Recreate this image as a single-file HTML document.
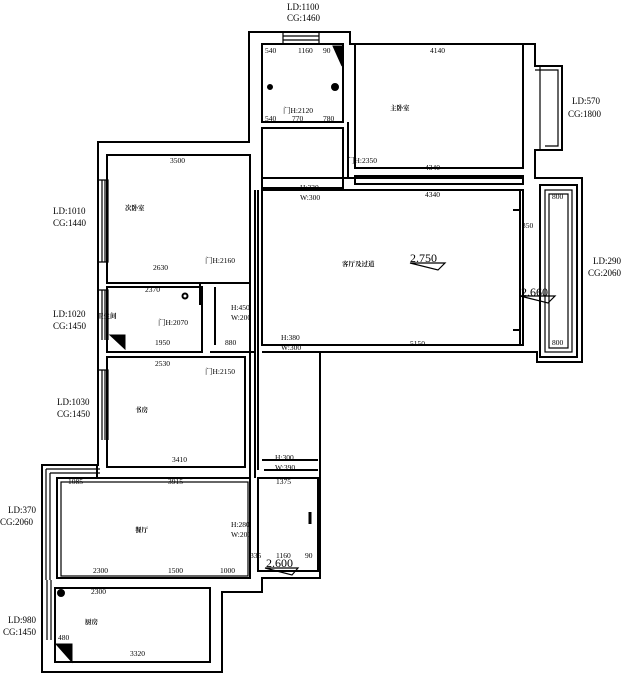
<!DOCTYPE html>
<html><head><meta charset="utf-8"><style>
html,body{margin:0;padding:0;background:#fff;width:630px;height:674px;overflow:hidden}
svg text{font-family:"Liberation Serif","Noto Serif CJK SC",serif;fill:#000}
</style></head><body>
<svg width="630" height="674" viewBox="0 0 630 674" xmlns="http://www.w3.org/2000/svg" fill="none" stroke="#000" stroke-width="2">
<path d="M249,32 H350 V44 H535 V66 H562 V150 H535 V178 H582 V362 H537 V352 H320 V578 H262 V592 H222 V672 H42 V465 H98 V142 H249 Z"/>
<path d="M97,465 V478 M262,592 V578"/>
<path d="M283,32 V44 M319,32 V44 M283,36 H319 M283,40 H319" stroke-width="1.2"/>
<path d="M540,66 V150 M545,70 H558 V146 H545 M535,70 H558" stroke-width="1.2"/>
<path d="M98,180 H108 V262 H98 M102,180 V262 M105,180 V262" stroke-width="1.2"/>
<path d="M98,290 H108 V340 M102,290 V340 M105,290 V340" stroke-width="1.2"/>
<path d="M98,370 H108 V440 M102,370 V440 M105,370 V440" stroke-width="1.2"/>
<path d="M42,580 V640 M47,580 V640 M51,580 V640" stroke-width="1.2"/>
<path d="M46,469 H100 M50,473 H100 M46,469 V580 M50,473 V580" stroke-width="1.2"/>
<rect x="262" y="44" width="81" height="78"/>
<rect x="355" y="44" width="168" height="124"/>
<rect x="262" y="128" width="81" height="60"/>
<rect x="107" y="155" width="143" height="128"/>
<rect x="107" y="287" width="95" height="65"/>
<rect x="262" y="190" width="261" height="155"/>
<rect x="355" y="176" width="168" height="8"/>
<rect x="540" y="185" width="37" height="172"/>
<rect x="545" y="190" width="27" height="162" stroke-width="1.2"/>
<rect x="549" y="194" width="19" height="154" stroke-width="1.2"/>
<rect x="107" y="357" width="138" height="110"/>
<rect x="57" y="478" width="193" height="100"/>
<rect x="61" y="482" width="187" height="94" stroke-width="1.2"/>
<rect x="55" y="588" width="155" height="74"/>
<rect x="258" y="478" width="60" height="93"/>
<path d="M255,190 V478 M258,190 V470 M264,470 H318 M262,460 H318"/>
<path d="M200,283 V305 M215,287 V345 M210,352 H255 M262,352 H320"/>
<path d="M343,128 V172 M348,122 V178 M262,178 H523 M250,155 V478"/>
<path d="M520,190 V345 M513,210 H520 M513,330 H520"/>
<path d="M333,46 L342,46 L342,66 Z" fill="#000" stroke-width="1"/>
<path d="M56,644 L72,644 L72,662 Z" fill="#000" stroke-width="1"/>
<path d="M110,335 L125,335 L125,349 Z" fill="#000" stroke-width="1"/>
<circle cx="335" cy="87" r="3" fill="#000"/>
<circle cx="270" cy="87" r="2" fill="#000"/>
<circle cx="61" cy="593" r="3" fill="#000"/>
<circle cx="185" cy="296" r="2.5"/>
<path d="M410,263 H445 L438,270 Z M520,296 H555 L548,303 Z M265,568 H298 L292,575 Z" stroke-width="1.2"/>
<path d="M310,512 V524" stroke-width="3"/>
<g stroke="none" font-size="9">
<text x="287" y="10">LD:1100</text><text x="287" y="21">CG:1460</text>
<text x="572" y="104">LD:570</text><text x="568" y="117">CG:1800</text>
<text x="593" y="264">LD:290</text><text x="588" y="276">CG:2060</text>
<text x="53" y="214">LD:1010</text><text x="53" y="226">CG:1440</text>
<text x="53" y="317">LD:1020</text><text x="53" y="329">CG:1450</text>
<text x="57" y="405">LD:1030</text><text x="57" y="417">CG:1450</text>
<text x="8" y="513">LD:370</text><text x="0" y="525">CG:2060</text>
<text x="8" y="623">LD:980</text><text x="3" y="635">CG:1450</text>
<g font-size="7.5">
<text x="265" y="53">540</text><text x="298" y="53">1160</text><text x="323" y="53">90</text>
<text x="265" y="121">540</text><text x="292" y="121">770</text><text x="323" y="121">780</text>
<text x="283" y="113">门H:2120</text><text x="347" y="163">门H:2350</text>
<text x="430" y="53">4140</text><text x="425" y="170">4340</text><text x="425" y="197">4340</text>
<text x="170" y="163">3500</text><text x="153" y="270">2630</text><text x="145" y="292">2370</text>
<text x="205" y="263">门H:2160</text><text x="158" y="325">门H:2070</text>
<text x="231" y="310">H:450</text><text x="231" y="320">W:200</text>
<text x="300" y="190">H:330</text><text x="300" y="200">W:300</text>
<text x="281" y="340">H:380</text><text x="281" y="350">W:300</text>
<text x="155" y="345">1950</text><text x="225" y="345">880</text><text x="410" y="346">5150</text>
<text x="155" y="366">2530</text><text x="205" y="374">门H:2150</text><text x="172" y="462">3410</text>
<text x="275" y="460">H:300</text><text x="275" y="470">W:390</text>
<text x="68" y="484">1085</text><text x="168" y="484">3915</text><text x="276" y="484">1375</text>
<text x="231" y="527">H:280</text><text x="231" y="537">W:200</text>
<text x="93" y="573">2300</text><text x="168" y="573">1500</text><text x="220" y="573">1000</text>
<text x="250" y="558">335</text><text x="276" y="558">1160</text><text x="305" y="558">90</text>
<text x="91" y="594">2300</text><text x="130" y="656">3320</text><text x="58" y="640">480</text>
<text x="552" y="199">800</text><text x="552" y="345">800</text><text x="522" y="228">350</text>
</g>
<g font-size="6.5" font-weight="bold">
<text x="390" y="110">主卧室</text><text x="125" y="210">次卧室</text><text x="97" y="318">卫生间</text>
<text x="342" y="266">客厅及过道</text><text x="135" y="412">书房</text><text x="135" y="532">餐厅</text><text x="85" y="624">厨房</text>
</g>
<g font-size="12"><text x="410" y="262">2.750</text><text x="521" y="296">2.660</text><text x="266" y="567">2.600</text></g>
</g>
</svg>
</body></html>
